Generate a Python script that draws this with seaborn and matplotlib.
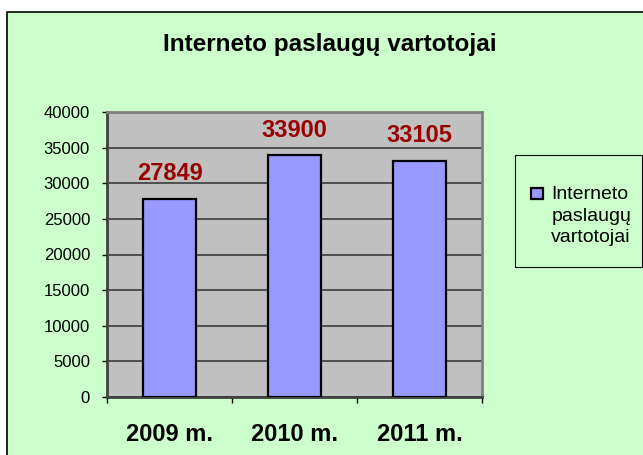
import matplotlib
matplotlib.use("Agg")
import matplotlib.pyplot as plt
import seaborn as sns
import pandas as pd
from matplotlib.patches import Rectangle, Patch
from matplotlib.legend_handler import HandlerPatch
from matplotlib.ticker import MultipleLocator, FixedLocator

years = ["2009 m.", "2010 m.", "2011 m."]
users = [27849, 33900, 33105]
series_label = "Interneto\npaslaugų\nvartotojai"
title = "Interneto paslaugų vartotojai"

df = pd.DataFrame({"year": years, "users": users})

sns.set_theme(style="white")
plt.rcParams["font.family"] = ["Liberation Sans", "DejaVu Sans"]
for k in ["text.color", "axes.labelcolor", "xtick.color", "ytick.color"]:
    plt.rcParams[k] = "black"

W, H = 643, 455
fig = plt.figure(figsize=(W / 100, H / 100), dpi=100)
fig.patch.set_facecolor("white")

# chart area background with border
fig.patches.append(Rectangle((7 / W, -0.1), 1.2, 1 - 12 / H + 0.1, transform=fig.transFigure,
                             facecolor="#CCFFCC", edgecolor="black", linewidth=1.2, zorder=-1))

ax = fig.add_axes([107 / W, 1 - 397 / H, (482 - 107) / W, (397 - 112) / H])
ax.set_facecolor("#C0C0C0")

sns.barplot(data=df, x="year", y="users", ax=ax, color="#9999FF", width=0.42,
            edgecolor="black", linewidth=1.6, saturation=1, zorder=3)

ax.set_xlim(-0.5, 2.5)
ax.set_ylim(0, 40000)
ax.yaxis.set_major_locator(MultipleLocator(5000))
ax.grid(axis="y", color="#303030", linewidth=1.1, zorder=0)
ax.set_axisbelow(True)
ax.set_xlabel("")
ax.set_ylabel("")

for s in ["top", "right"]:
    ax.spines[s].set_color("#808080")
    ax.spines[s].set_linewidth(2.0)
for s in ["left", "bottom"]:
    ax.spines[s].set_color("#404040")
    ax.spines[s].set_linewidth(2.0)

ax.tick_params(axis="y", which="major", length=3.6, width=1, color="black",
               labelsize=12, pad=8.6, labelcolor="black", left=True)
ax.tick_params(axis="x", which="major", length=0, labelsize=17, pad=19, labelcolor="black")
for lbl in ax.get_xticklabels():
    lbl.set_fontweight("bold")
ax.xaxis.set_minor_locator(FixedLocator([-0.5, 0.5, 1.5, 2.5]))
ax.tick_params(axis="x", which="minor", length=4.5, width=1, color="black", bottom=True)

for i, v in enumerate(users):
    ax.annotate(f"{v}", (i, v), xytext=(0, 10), textcoords="offset points",
                ha="center", va="bottom", fontsize=17, fontweight="bold", color="#990000")

fig.text(330 / W, 1 - 45 / H, title, ha="center", va="center", fontsize=17.5, fontweight="bold")

# legend frame
fig.patches.append(Rectangle((515 / W, 1 - 267 / H), (642 - 515) / W, (267 - 155) / H,
                             transform=fig.transFigure, facecolor="#CCFFCC",
                             edgecolor="black", linewidth=0.8, zorder=-0.5))

LEG_FS = 14
LEG_LS = 1.36


def top_square(legend, orig_handle, xdescent, ydescent, width, height, fontsize):
    sq = 8.6
    yc = 21.0
    return Rectangle((-xdescent, yc - sq / 2), sq, sq)


handle = Patch(facecolor="#9999FF", edgecolor="black", linewidth=1.6)
leg = fig.legend(handles=[handle], labels=[series_label],
                 loc="upper left", bbox_to_anchor=(531 / W, 1 - 186 / H),
                 frameon=False, fontsize=LEG_FS,
                 handlelength=0.62, handleheight=0.7, handletextpad=0.42,
                 borderpad=0, borderaxespad=0,
                 handler_map={Patch: HandlerPatch(patch_func=top_square)})
for t in leg.get_texts():
    t.set_linespacing(LEG_LS)
    t.set_multialignment("left")

fig.savefig("out.png", dpi=100)
